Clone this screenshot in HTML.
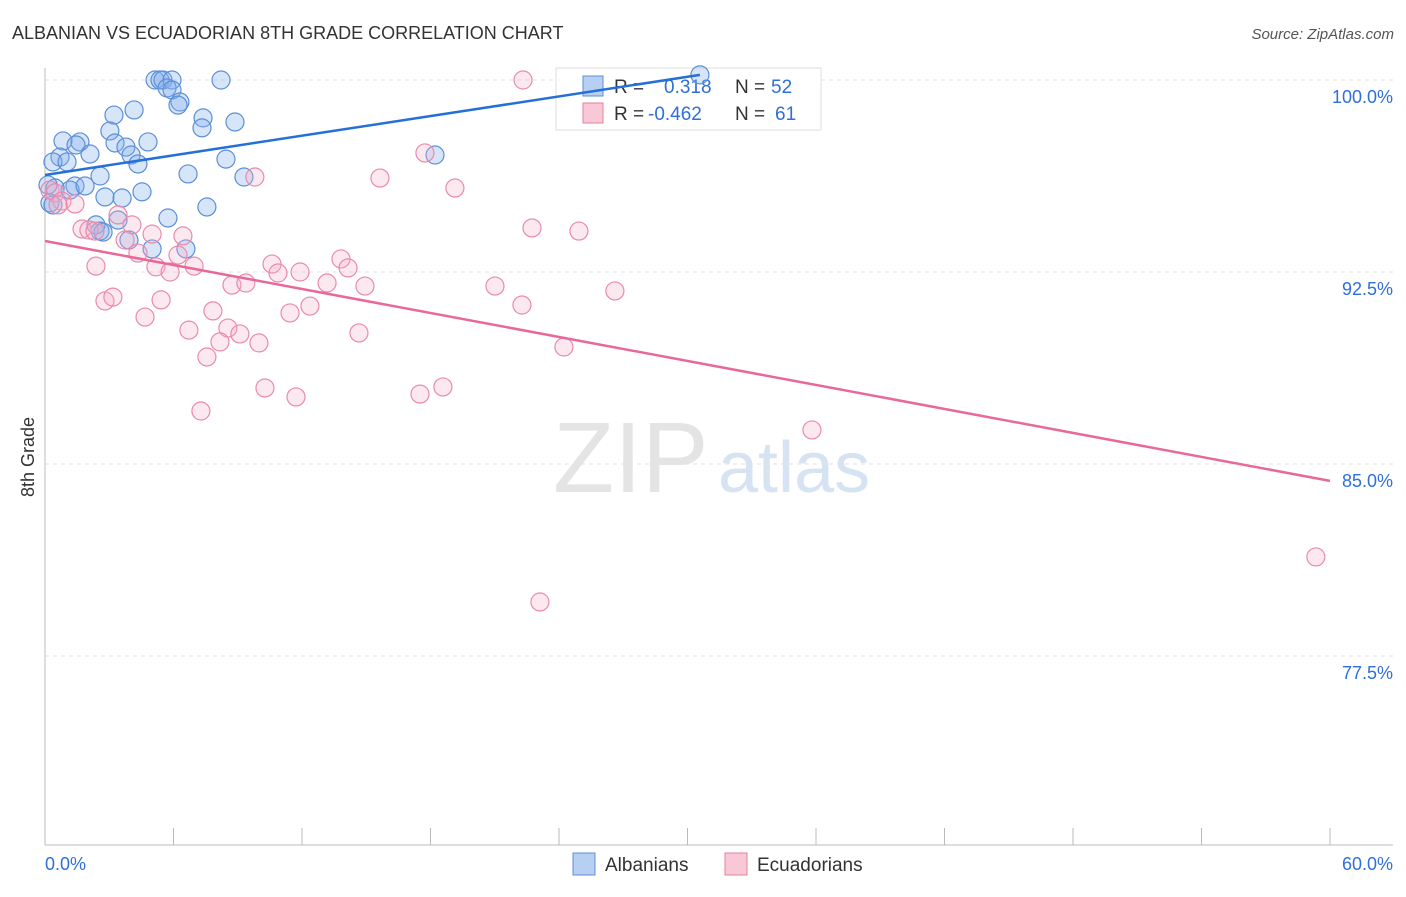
<!DOCTYPE html>
<html><head><meta charset="utf-8"><style>
body{margin:0;background:#fff;width:1406px;height:892px;overflow:hidden;font-family:"Liberation Sans",sans-serif}
svg text{font-family:"Liberation Sans",sans-serif}
</style></head><body>
<svg id="chart" width="1406" height="892">
<text x="12" y="39" font-size="18" fill="#333">ALBANIAN VS ECUADORIAN 8TH GRADE CORRELATION CHART</text>
<text x="1394" y="39" font-size="15" fill="#555" font-style="italic" text-anchor="end">Source: ZipAtlas.com</text>
<text x="34" y="457" font-size="18" fill="#333" transform="rotate(-90 34 457)" text-anchor="middle">8th Grade</text>
<g><text x="553" y="492" font-size="100" fill="#e4e4e4" font-family="Liberation Serif">ZIP</text><text x="718" y="492" font-size="72" fill="#d6e3f3">atlas</text></g>
<g id="grid"></g><g id="axes"></g>
<g>
<rect x="556" y="68" width="265" height="62" fill="rgba(255,255,255,0.85)" stroke="#ddd"/>
<rect x="583" y="76" width="20" height="20" fill="#b7d0f2" stroke="#5b8fd8"/>
<rect x="583" y="103" width="20" height="20" fill="#f8c8d7" stroke="#e77fa1"/>
<text x="614" y="93" font-size="19" fill="#333">R = </text><text x="664" y="93" font-size="19" fill="#2e6fd8">0.318</text>
<text x="735" y="93" font-size="19" fill="#333">N = </text><text x="771" y="93" font-size="19" fill="#2e6fd8">52</text>
<text x="614" y="120" font-size="19" fill="#333">R = </text><text x="648" y="120" font-size="19" fill="#2e6fd8">-0.462</text>
<text x="735" y="120" font-size="19" fill="#333">N = </text><text x="775" y="120" font-size="19" fill="#2e6fd8">61</text>
</g>
<g id="pts"></g><g id="lines"></g>
<g>
<rect x="573" y="853" width="22" height="22" fill="#b7d0f2" stroke="#5b8fd8"/>
<text x="605" y="871" font-size="19" fill="#333">Albanians</text>
<rect x="725" y="853" width="22" height="22" fill="#f8c8d7" stroke="#e77fa1"/>
<text x="757" y="871" font-size="19" fill="#333">Ecuadorians</text>
</g>
</svg>
<script>
const yTicks=[100,92.5,85,77.5];
const yTickLabels=["100.0%","92.5%","85.0%","77.5%"];
const xTickLabels=["0.0%","60.0%"];
const blueX=[5.14,5.37,5.51,5.93,8.22,5.70,5.93,6.30,6.21,4.16,3.22,7.38,8.87,3.03,7.33,0.84,1.63,1.45,3.27,4.81,3.78,2.10,4.02,0.70,0.37,1.03,4.34,8.45,18.21,6.68,9.29,2.57,1.40,1.17,1.87,4.53,0.47,2.80,3.60,0.23,0.37,7.56,5.74,3.41,2.38,2.57,2.71,3.92,5.00,6.58,0.14,30.58];
const blueY=[100,100,100,100,100,99.69,99.61,99.14,99.02,98.83,98.63,98.52,98.36,98.01,98.13,97.62,97.58,97.46,97.54,97.58,97.38,97.11,97.07,96.99,96.80,96.80,96.72,96.91,97.07,96.33,96.21,96.25,95.86,95.70,95.86,95.63,95.78,95.43,95.39,95.20,95.12,95.04,94.61,94.53,94.34,94.10,94.06,93.75,93.40,93.40,95.90,100.2];
const pinkX=[22.32,17.74,9.80,15.64,19.14,0.23,0.47,0.79,1.40,0.61,3.41,4.06,1.73,2.05,2.33,5.00,6.44,3.74,22.74,24.93,4.34,6.21,2.38,5.18,5.84,6.96,10.60,10.88,11.91,13.82,14.15,8.73,9.38,13.17,14.94,26.61,21.01,2.80,3.17,5.42,7.84,12.37,11.44,22.27,4.67,6.72,8.54,9.10,8.17,9.99,14.66,24.23,7.56,10.27,11.72,17.51,18.58,7.28,35.81,59.34,23.11];
const pinkY=[100,97.15,96.21,96.17,95.78,95.70,95.59,95.27,95.16,95.12,94.73,94.34,94.18,94.14,94.10,93.98,93.91,93.75,94.22,94.10,93.24,93.16,92.73,92.70,92.50,92.73,92.81,92.46,92.50,93.01,92.66,91.99,92.07,92.07,91.95,91.76,91.95,91.37,91.52,91.41,90.98,91.17,90.90,91.21,90.74,90.23,90.31,90.08,89.77,89.73,90.12,89.57,89.18,87.97,87.62,87.73,88.01,87.07,86.33,81.37,79.61];
const blueTrend=[96.29,100.2];
const blueTrendX=[0,30.58];
const pinkTrend=[93.71,84.34];
const pinkTrendX=[0,60];

const NS="http://www.w3.org/2000/svg";
const sx=v=>45+v/60*1285;
const sy=v=>80+(100-v)/7.5*192;
function mk(tag,attrs,parent){const e=document.createElementNS(NS,tag);for(const k in attrs)e.setAttribute(k,attrs[k]);parent.appendChild(e);return e;}
const grid=document.getElementById('grid'),axes=document.getElementById('axes'),pts=document.getElementById('pts'),lines=document.getElementById('lines');
yTicks.forEach((t,i)=>{
  const l=mk('line',{x1:45,x2:1393,y1:sy(t),y2:sy(t),stroke:'#e2e2e2','stroke-dasharray':'4,4'},grid);
  
  
  const tx=mk('text',{x:1393,y:sy(t)+23,'font-size':18,fill:'#2e6fd8','text-anchor':'end'},axes);
  tx.textContent=yTickLabels[i];
  
  
});
mk('line',{x1:45,x2:45,y1:68,y2:845,stroke:'#bbb'},axes);
mk('line',{x1:45,x2:1393,y1:845,y2:845,stroke:'#bbb'},axes);
for(let k=1;k<=10;k++){const t=mk('line',{x1:sx(k*6),x2:sx(k*6),y1:828,y2:845,stroke:'#bbb'},axes);
  
  }
const x0=mk('text',{x:45,y:870,'font-size':18,fill:'#2e6fd8'},axes);x0.textContent=xTickLabels[0];


const x1=mk('text',{x:1393,y:870,'font-size':18,fill:'#2e6fd8','text-anchor':'end'},axes);x1.textContent=xTickLabels[1];


blueX.forEach((v,i)=>{const c=mk('circle',{cx:sx(v),cy:sy(blueY[i]),r:9,fill:'rgba(130,175,235,0.32)',stroke:'#5b8fd8','stroke-width':1.2},pts);
  
  });
pinkX.forEach((v,i)=>{const c=mk('circle',{cx:sx(v),cy:sy(pinkY[i]),r:9,fill:'rgba(245,175,200,0.28)',stroke:'#e98aab','stroke-width':1.2},pts);
  
  });
const bl=mk('line',{x1:sx(blueTrendX[0]),y1:sy(blueTrend[0]),x2:sx(blueTrendX[1]),y2:sy(blueTrend[1]),stroke:'#2470d8','stroke-width':2.5},lines);


const pl=mk('line',{x1:sx(pinkTrendX[0]),y1:sy(pinkTrend[0]),x2:sx(pinkTrendX[1]),y2:sy(pinkTrend[1]),stroke:'#e8689a','stroke-width':2.5},lines);


</script>
</body></html>
